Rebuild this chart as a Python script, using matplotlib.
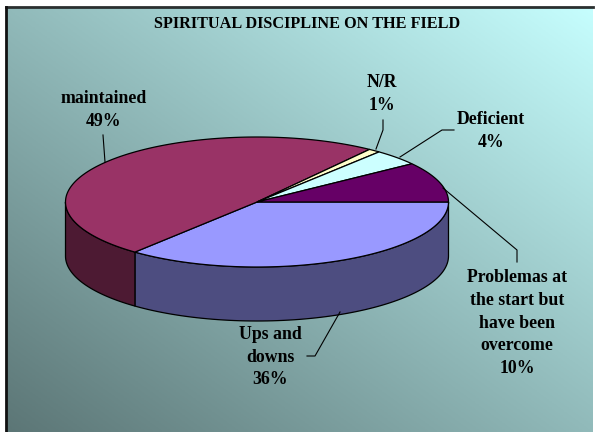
import numpy as np
import matplotlib.pyplot as plt
from matplotlib.patches import Polygon

# data, clockwise from 3 o'clock
labels = ["Ups and\ndowns", "maintained", "N/R", "Deficient",
          "Problemas at\nthe start but\nhave been\novercome"]
values = [36, 49, 1, 4, 10]
top_colors = ["#9999FF", "#993366", "#FFFFCC", "#CCFFFF", "#660066"]
side_colors = ["#4D4D80", "#4D1A33", "#80806A", "#6A8080", "#330033"]

W, H = 595, 432
fig = plt.figure(figsize=(W / 100, H / 100), dpi=100)
ax = fig.add_axes([0, 0, 1, 1])
ax.set_xlim(0, W)
ax.set_ylim(H, 0)
ax.axis("off")

# gradient background
x0, x1, y0, y1 = 6, 593, 7, 432
nx, ny = 200, 150
gx, gy = np.meshgrid(np.linspace(0, 1, nx), np.linspace(0, 1, ny))
t = np.clip((gx + (1 - gy)) / 2, 0, 1)
dark = np.array([92, 118, 118]) / 255
light = np.array([198, 254, 254]) / 255
img = dark[None, None, :] * (1 - t[..., None]) + light[None, None, :] * t[..., None]
ax.imshow(img, extent=[x0, x1, y1, y0], aspect="auto", zorder=0)
ax.plot([x0, x1], [y0 - 0.5, y0 - 0.5], color="#2a2f2f", lw=2, zorder=1)
ax.plot([x0 - 0.5, x0 - 0.5], [y0, y1], color="#111111", lw=2, zorder=1)

# 3d pie
cx, cy, a, b, depth = 257, 202, 191.5, 65, 54


def pt(th, dy=0):
    r = np.radians(th)
    return cx + a * np.cos(r), cy - b * np.sin(r) + dy


bounds = [0]
for v in values:
    bounds.append(bounds[-1] - v / sum(values) * 360)

# side walls (front half only)
for i in range(len(values)):
    hi, lo = bounds[i], bounds[i + 1]
    s, e = max(lo, -180), min(hi, 0)
    if e > s:
        th = np.linspace(e, s, 80)
        top = [pt(q) for q in th]
        bot = [pt(q, depth) for q in th[::-1]]
        ax.add_patch(Polygon(top + bot, closed=True, fc=side_colors[i],
                             ec="black", lw=0.9, zorder=2))

# top faces
for i in range(len(values)):
    hi, lo = bounds[i], bounds[i + 1]
    n = max(4, int((hi - lo) * 2))
    th = np.linspace(hi, lo, n)
    verts = [(cx, cy)] + [pt(q) for q in th]
    ax.add_patch(Polygon(verts, closed=True, fc=top_colors[i],
                         ec="black", lw=0.9, zorder=3))

font = dict(family="Liberation Serif", fontweight="bold", fontsize=12.8,
            ha="center", va="center", linespacing=1.45, zorder=5)

ax.text(307, 24, "SPIRITUAL DISCIPLINE ON THE FIELD", **dict(font, fontsize=11.7))

# label positions and leader lines
lab_pos = [(270, 357), (104, 110), (382, 94), (491, 131), (517, 323)]
leaders = [
    [(307, 356), (315, 356), (340, 312)],
    [(103, 135), (105, 162)],
    [(383, 120), (383, 130), (376, 149)],
    [(454, 130), (442, 130), (400, 157)],
    [(517, 262), (517, 250), (443, 188)],
]
for i in range(len(values)):
    txt = labels[i] + "\n" + str(values[i]) + "%"
    ax.text(lab_pos[i][0], lab_pos[i][1], txt, **font)
    xs, ys = zip(*leaders[i])
    ax.plot(xs, ys, color="black", lw=0.8, zorder=4)

fig.savefig("out.png", dpi=100)
